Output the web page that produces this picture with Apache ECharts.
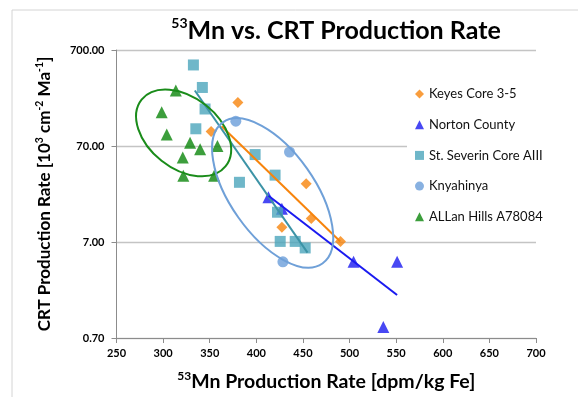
<!DOCTYPE html>
<html>
<head>
<meta charset="utf-8">
<script src="https://cdn.jsdelivr.net/npm/echarts@6/dist/echarts.min.js"></script>
<style>html,body{margin:0;padding:0;background:#fff;}#c{width:578px;height:397px;}</style>
</head>
<body>
<div id="c"></div>
<script>
// ---- data ----
const yTickValues = [0.7, 7, 70, 700];
const keyesX = [380.2, 351.5, 453.5, 458.9, 427.4, 490.3];
const keyesY = [199, 99.3, 28.3, 12.3, 10.0, 7.1];
const nortonX = [413.0, 427.4, 504.3, 551.0, 536.2];
const nortonY = [20.5, 15.5, 4.35, 4.35, 0.91];
const severinX = [332.5, 342.1, 345.0, 335.1, 398.7, 381.9, 420.1, 422.7, 425.6, 441.7, 452.4];
const severinY = [489, 285, 170, 105.8, 57, 29.3, 34.8, 14.3, 7.1, 7.1, 6.07];
const knyX = [378.0, 435.6, 428.5];
const knyY = [126.9, 60.6, 4.35];
const allanX = [313.6, 298.5, 303.9, 328.9, 339.7, 358.3, 321.1, 321.7, 354.7];
const allanY = [265, 157, 92.4, 75.8, 64.7, 69.9, 53, 34.2, 34.2];
// trend line end points
const keyesTrendX = [362.7, 490.0];
const keyesTrendY = [112.6, 7.1];
const severinTrendX = [334.0, 454.9];
const severinTrendY = [265, 5.43];
const nortonTrendX = [413.0, 551.0];
const nortonTrendY = [21.2, 1.96];
// ellipses: [centerX, centerY, majorEndX, majorEndY, minorEndX, minorEndY]
const greenEllipse = [322.0, 95.8, 367.1, 43.1, 298.1, 49.3];
const blueEllipse = [417.5, 22.7, 470.9, 4.18, 380.5, 12.7];

const zip = (xs, ys) => xs.map((x, i) => [x, ys[i]]);
const FONT = 'Lato';
const cOrange = '#F7840C', cBlue = '#1A1AF0', cTeal = '#4BA5BC', cKny = '#6A9DDA', cGreen = '#0B860B';

function ellipseItem(params, api) {
  const c = api.coord([api.value(0), api.value(1)]);
  const m = api.coord([api.value(2), api.value(3)]);
  const n = api.coord([api.value(4), api.value(5)]);
  const rx = Math.hypot(m[0] - c[0], m[1] - c[1]);
  const ry = Math.hypot(n[0] - c[0], n[1] - c[1]);
  const ang = Math.atan2(m[1] - c[1], m[0] - c[0]);
  return {
    type: 'ellipse', x: c[0], y: c[1], rotation: -ang,
    shape: { cx: 0, cy: 0, rx: rx, ry: ry },
    style: { fill: 'none', stroke: api.visual('color'), lineWidth: 2 }
  };
}

const chart = echarts.init(document.getElementById('c'), null, { renderer: 'canvas' });
chart.setOption({
  animation: false,
  backgroundColor: '#fff',
  graphic: [{ type: 'rect', left: 9.5, top: 7.5, shape: { width: 620, height: 420 }, style: { fill: 'none', stroke: '#d4d4d4', lineWidth: 1 }, silent: true, z: -10 }],
  title: {
    text: '{s|53}{b|Mn vs. CRT Production Rate}',
    left: 331, top: 11, textAlign: 'center',
    textStyle: { rich: {
      s: { fontFamily: FONT, fontWeight: 'bold', fontSize: 14, lineHeight: 30, verticalAlign: 'top', color: '#000' },
      b: { fontFamily: FONT, fontWeight: 'bold', fontSize: 25, lineHeight: 30, color: '#000' }
    } }
  },
  legend: {
    orient: 'vertical', left: 407, top: 81,
    padding: [6, 6, 6, 8], backgroundColor: '#fff',
    itemWidth: 9, itemHeight: 9, itemGap: 16.7,
    textStyle: { fontFamily: FONT, fontSize: 13, lineHeight: 14, color: '#111' },
    data: ['Keyes Core 3-5', 'Norton County', 'St. Severin Core AIII', 'Knyahinya', 'ALLan Hills A78084'],
    z: 10
  },
  grid: { left: 116.5, right: 42, top: 50, bottom: 57 },
  xAxis: {
    type: 'value', min: 250, max: 700, interval: 50,
    name: '{s|53}{b|Mn Production Rate [dpm/kg Fe]}', nameLocation: 'middle', nameGap: 32,
    nameTextStyle: { rich: {
      s: { fontFamily: FONT, fontWeight: 'bold', fontSize: 12, lineHeight: 24, verticalAlign: 'top', color: '#000' },
      b: { fontFamily: FONT, fontWeight: 'bold', fontSize: 19.5, lineHeight: 24, color: '#000' }
    } },
    axisLine: { lineStyle: { color: '#8c8c8c' } },
    axisTick: { show: true, inside: false, length: 5, lineStyle: { color: '#8c8c8c' } },
    axisLabel: { fontFamily: FONT, fontWeight: 'bold', fontSize: 11, color: '#000', margin: 10 },
    splitLine: { show: false }
  },
  yAxis: {
    type: 'log', logBase: 10, min: 0.7, max: 700,
    name: '{b|CRT Production Rate [10}{s|3}{b| cm}{s|-2}{b| Ma}{s|-1}{b|]}', nameLocation: 'middle', nameRotate: 90, nameGap: 61,
    nameTextStyle: { rich: {
      s: { fontFamily: FONT, fontWeight: 'bold', fontSize: 10.5, lineHeight: 21, verticalAlign: 'top', color: '#000' },
      b: { fontFamily: FONT, fontWeight: 'bold', fontSize: 17, lineHeight: 21, color: '#000' }
    } },
    axisLine: { show: true, lineStyle: { color: '#8c8c8c' } },
    axisTick: { show: true, inside: false, length: 5, lineStyle: { color: '#8c8c8c' }, customValues: yTickValues },
    axisLabel: { fontFamily: FONT, fontWeight: 'bold', fontSize: 11, color: '#000', margin: 12, customValues: yTickValues,
      formatter: v => Number(v).toFixed(2) },
    splitLine: { show: true, lineStyle: { color: '#c4c4c4', width: 1.3 } }
  },
  series: [
    { name: 'Keyes Core 3-5', type: 'scatter', symbol: 'diamond', symbolSize: 11, itemStyle: { color: cOrange }, data: zip(keyesX, keyesY), z: 3 },
    { name: 'Norton County', type: 'scatter', symbol: 'triangle', symbolSize: 12, itemStyle: { color: cBlue }, data: zip(nortonX, nortonY), z: 3 },
    { name: 'St. Severin Core AIII', type: 'scatter', symbol: 'rect', symbolSize: 11, itemStyle: { color: cTeal }, data: zip(severinX, severinY), z: 3 },
    { name: 'Knyahinya', type: 'scatter', symbol: 'circle', symbolSize: 11, itemStyle: { color: cKny }, data: zip(knyX, knyY), z: 3 },
    { name: 'ALLan Hills A78084', type: 'scatter', symbol: 'triangle', symbolSize: 12, itemStyle: { color: cGreen }, data: zip(allanX, allanY), z: 3 },
    { name: 'keyesTrend', type: 'line', symbol: 'none', lineStyle: { color: cOrange, width: 2 }, data: zip(keyesTrendX, keyesTrendY), z: 4 },
    { name: 'severinTrend', type: 'line', symbol: 'none', lineStyle: { color: '#3C93A6', width: 2 }, data: zip(severinTrendX, severinTrendY), z: 4 },
    { name: 'nortonTrend', type: 'line', symbol: 'none', lineStyle: { color: cBlue, width: 2 }, data: zip(nortonTrendX, nortonTrendY), z: 4 },
    { name: 'greenEllipse', type: 'custom', renderItem: ellipseItem, itemStyle: { color: '#1A8C1A' }, data: [greenEllipse], z: 5, silent: true },
    { name: 'blueEllipse', type: 'custom', renderItem: ellipseItem, itemStyle: { color: '#6FA0D8' }, data: [blueEllipse], z: 5, silent: true }
  ]
});
</script>
</body>
</html>
